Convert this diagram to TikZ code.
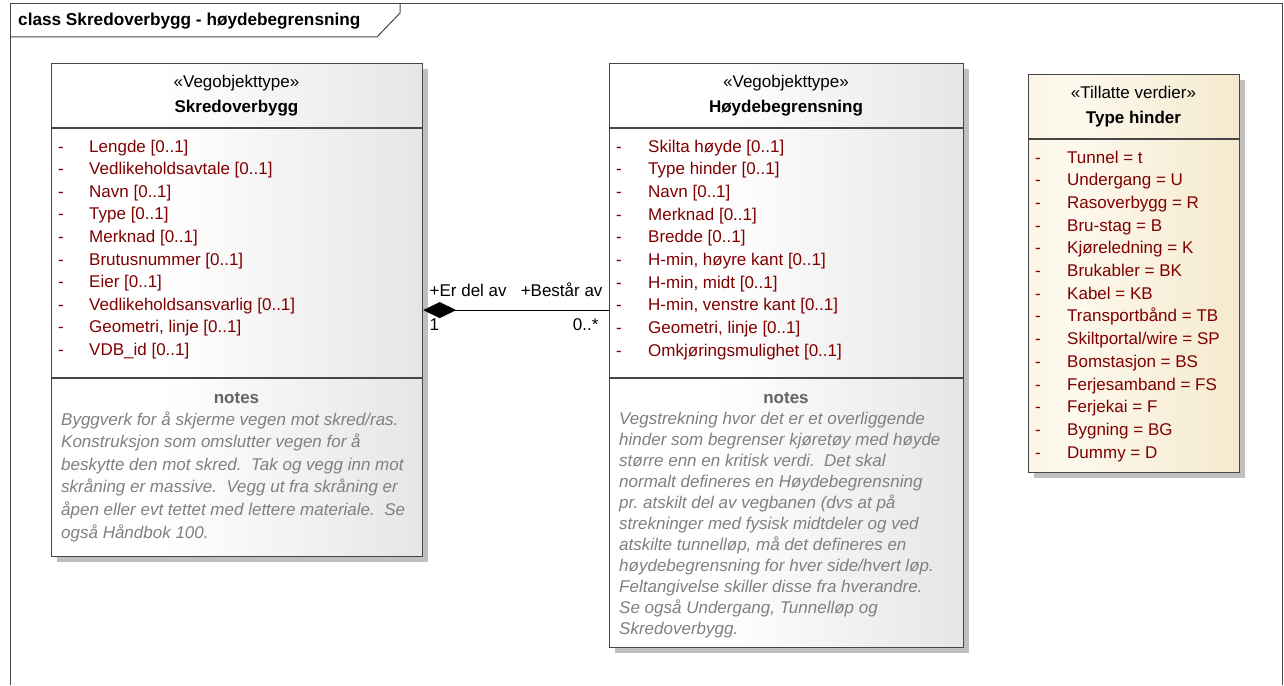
\documentclass[tikz,border=0pt]{standalone}
\usepackage{fontspec}
\setmainfont{Liberation Sans}
\usetikzlibrary{arrows.meta, shadows}
\definecolor{attrred}{RGB}{128,0,0}
\definecolor{notegray}{RGB}{128,128,128}
\definecolor{notehead}{RGB}{100,100,100}
\definecolor{boxgray}{RGB}{212,212,212}
\definecolor{enumleft}{RGB}{247,236,208}
\definecolor{enumlight}{RGB}{253,249,238}
\definecolor{enumbeige}{RGB}{240,224,186}
\definecolor{framegray}{RGB}{70,70,70}
\pgfdeclarehorizontalshading{klassegrau}{100bp}{color(0bp)=(white); color(40bp)=(white); color(100bp)=(boxgray)}
\pgfdeclarehorizontalshading{klassegelb}{100bp}{color(0bp)=(enumleft); color(35bp)=(enumlight); color(100bp)=(enumbeige)}
\frenchspacing

\begin{document}
\begin{tikzpicture}[x=1pt, y=-1pt, font=\fontsize{17}{20}\selectfont,
		klasse/.style={draw=framegray, line width=1.2pt, shading=klassegrau,
			drop shadow={shadow xshift=5pt, shadow yshift=-5pt, fill=black!25, opacity=1},
			anchor=north west, inner sep=0pt},
		trenn/.style={draw=framegray, line width=1.2pt},
		kopf/.style={anchor=base, inner sep=0pt},
		attr/.style={anchor=base west, inner sep=0pt, text=attrred},
		note/.style={anchor=base west, inner sep=0pt, text=notegray, font=\fontsize{17}{20}\selectfont\itshape},
		rolle/.style={anchor=base west, inner sep=0pt}]
	\useasboundingbox (0,0) rectangle (1284,685);
	% Rahmen
	\draw[framegray, line width=1pt] (10,685) -- (10,4) -- (1282,4) -- (1282,685);
	\draw[framegray, line width=1pt] (10,37) -- (377,37) -- (400,13) -- (400,4);
	\node[rolle, font=\fontsize{17.2}{20}\selectfont\bfseries] (title) at (18,26) {class Skredoverbygg - høydebegrensning};

	% Klassen
	\node[klasse, minimum width=371pt, minimum height=493pt] (skred) at (51,63) {};
	\node[klasse, minimum width=354pt, minimum height=584pt] (hoyde) at (609,63) {};
	\node[klasse, shading=klassegelb, minimum width=211pt, minimum height=398pt] (hinder) at (1028,74) {};
	\foreach \b/\h in {skred/65, skred/315, hoyde/65, hoyde/315, hinder/65}
		\draw[trenn] ([yshift=-\h pt]\b.north west) -- ([yshift=-\h pt]\b.north east);

	% Kopf
	\node[kopf] (skredst) at (236.5,87) {«Vegobjekttype»};
	\node[kopf, font=\fontsize{17}{20}\selectfont\bfseries] (skredname) at (236.5,112) {Skredoverbygg};
	\node[kopf] (hoydest) at (786,87) {«Vegobjekttype»};
	\node[kopf, font=\fontsize{17}{20}\selectfont\bfseries] (hoydename) at (786,112) {Høydebegrensning};
	\node[kopf] (hinderst) at (1133.5,98) {«Tillatte verdier»};
	\node[kopf, font=\fontsize{17}{20}\selectfont\bfseries] (hindername) at (1133.5,123) {Type hinder};

	% Attribute
	\foreach \a [count=\i from 0] in {Lengde [0..1], Vedlikeholdsavtale [0..1], Navn [0..1], Type [0..1],
			Merknad [0..1], Brutusnummer [0..1], Eier [0..1], Vedlikeholdsansvarlig [0..1],
			{Geometri, linje [0..1]}, VDB\_id [0..1]} {
		\node[attr] (sd\i) at (58,152+22.6*\i) {-};
		\node[attr] (sa\i) at (89,152+22.6*\i) {\a};
	}
	\foreach \a [count=\i from 0] in {Skilta høyde [0..1], Type hinder [0..1], Navn [0..1], Merknad [0..1],
			Bredde [0..1], {H-min, høyre kant [0..1]}, {H-min, midt [0..1]}, {H-min, venstre kant [0..1]},
			{Geometri, linje [0..1]}, Omkjøringsmulighet [0..1]} {
		\node[attr] (hd\i) at (616,152+22.7*\i) {-};
		\node[attr] (ha\i) at (648,152+22.7*\i) {\a};
	}
	\foreach \a [count=\i from 0] in {Tunnel = t, Undergang = U, Rasoverbygg = R, Bru-stag = B,
			Kjøreledning = K, Brukabler = BK, Kabel = KB, Transportbånd = TB, Skiltportal/wire = SP,
			Bomstasjon = BS, Ferjesamband = FS, Ferjekai = F, Bygning = BG, Dummy = D} {
		\node[attr] (td\i) at (1035,163+22.7*\i) {-};
		\node[attr] (ta\i) at (1067,163+22.7*\i) {\a};
	}

	% Notes
	\node[kopf, text=notehead, font=\fontsize{17}{20}\selectfont\bfseries] (skrednotes) at (236.5,403) {notes};
	\foreach \n [count=\i from 0] in {Byggverk for å skjerme vegen mot skred/ras.,
			Konstruksjon som omslutter vegen for å,
			beskytte den mot skred.\ \ Tak og vegg inn mot,
			skråning er massive.\ \ Vegg ut fra skråning er,
			åpen eller evt tettet med lettere materiale.\ \ Se,
			også Håndbok 100.}
		\node[note] (sn\i) at (61,425+22.6*\i) {\n};
	\node[kopf, text=notehead, font=\fontsize{17}{20}\selectfont\bfseries] (hoydenotes) at (786,403) {notes};
	\foreach \n [count=\i from 0] in {Vegstrekning hvor det er et overliggende,
			hinder som begrenser kjøretøy med høyde,
			større enn en kritisk verdi.\ \ Det skal,
			normalt defineres en Høydebegrensning,
			{pr. atskilt del av vegbanen (dvs at på},
			strekninger med fysisk midtdeler og ved,
			{atskilte tunnelløp, må det defineres en},
			høydebegrensning for hver side/hvert løp.,
			Feltangivelse skiller disse fra hverandre.,
			{Se også Undergang, Tunnelløp og},
			Skredoverbygg.}
		\node[note] (hn\i) at (619,424+21*\i) {\n};

	% Assoziation
	\draw[line width=1pt, {Diamond[length=33pt, width=16pt]}-] (skred.east) -- (skred.east -| hoyde.west)
		node[pos=0, rolle, xshift=6pt, yshift=14pt] (rolle1) {+Er del av}
		node[pos=0, rolle, xshift=6pt, yshift=-20pt] (mult1) {1}
		node[pos=1, rolle, anchor=base east, xshift=-6pt, yshift=14pt] (rolle2) {+Består av}
		node[pos=1, rolle, anchor=base east, xshift=-10pt, yshift=-20pt] (mult2) {0..*};
\end{tikzpicture}
\end{document}
